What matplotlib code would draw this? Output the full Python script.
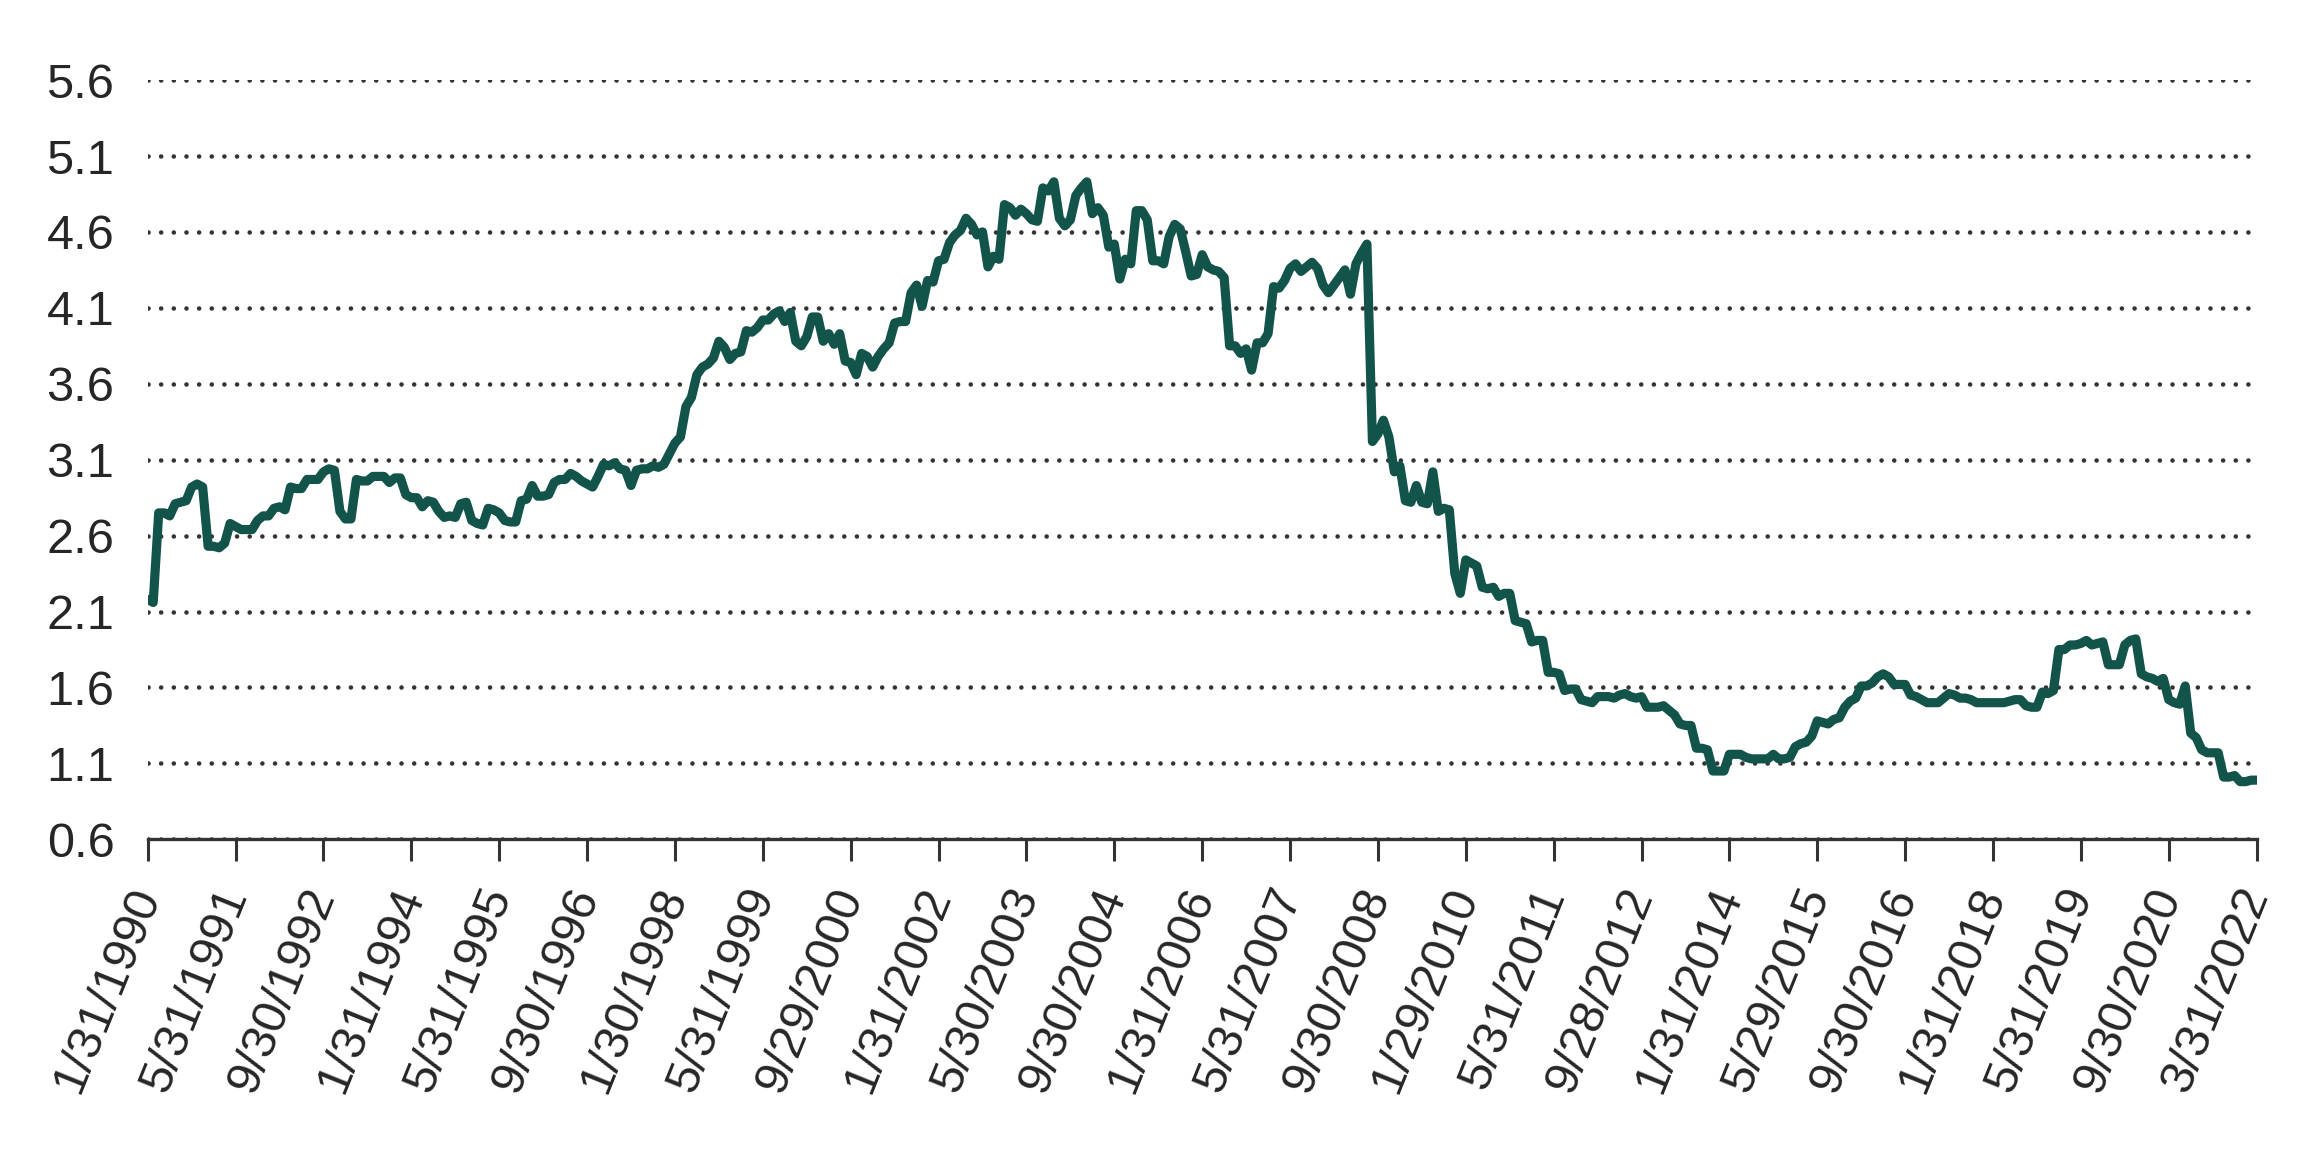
import matplotlib
matplotlib.use("Agg")
import matplotlib.pyplot as plt

# Month-end observations, Jan 1990 .. Mar 2022 (category positions on the axis)
values = [
    2.18, 2.16, 2.75, 2.75, 2.73, 2.81, 2.82, 2.83, 2.92, 2.94,
    2.92, 2.53, 2.53, 2.52, 2.55, 2.68, 2.66, 2.64, 2.64, 2.64,
    2.70, 2.73, 2.73, 2.78, 2.79, 2.77, 2.92, 2.91, 2.91, 2.97,
    2.97, 2.97, 3.02, 3.04, 3.03, 2.76, 2.71, 2.71, 2.97, 2.96,
    2.96, 2.99, 2.99, 2.99, 2.95, 2.98, 2.98, 2.87, 2.85, 2.85,
    2.79, 2.83, 2.82, 2.76, 2.72, 2.73, 2.72, 2.81, 2.82, 2.70,
    2.68, 2.67, 2.78, 2.77, 2.75, 2.70, 2.69, 2.69, 2.83, 2.84,
    2.93, 2.86, 2.86, 2.87, 2.95, 2.97, 2.97, 3.01, 2.99, 2.96,
    2.94, 2.92, 2.99, 3.07, 3.06, 3.08, 3.04, 3.03, 2.93, 3.03,
    3.04, 3.04, 3.06, 3.05, 3.07, 3.14, 3.21, 3.25, 3.45, 3.51,
    3.66, 3.71, 3.73, 3.77, 3.88, 3.84, 3.76, 3.80, 3.81, 3.95,
    3.94, 3.97, 4.02, 4.02, 4.06, 4.08, 4.01, 4.07, 3.88, 3.85,
    3.91, 4.04, 4.04, 3.88, 3.93, 3.86, 3.93, 3.75, 3.74, 3.66,
    3.80, 3.78, 3.71, 3.78, 3.83, 3.87, 4.00, 4.01, 4.01, 4.20,
    4.25, 4.11, 4.28, 4.27, 4.41, 4.42, 4.53, 4.58, 4.61, 4.69,
    4.65, 4.58, 4.60, 4.37, 4.44, 4.42, 4.78, 4.76, 4.71, 4.75,
    4.72, 4.68, 4.67, 4.89, 4.87, 4.93, 4.69, 4.64, 4.68, 4.84,
    4.89, 4.93, 4.72, 4.76, 4.71, 4.50, 4.52, 4.29, 4.42, 4.39,
    4.74, 4.74, 4.68, 4.41, 4.41, 4.39, 4.57, 4.65, 4.62, 4.47,
    4.31, 4.32, 4.45, 4.37, 4.35, 4.34, 4.30, 3.85, 3.85, 3.80,
    3.83, 3.69, 3.87, 3.87, 3.93, 4.24, 4.23, 4.28, 4.36, 4.39,
    4.34, 4.37, 4.40, 4.36, 4.25, 4.20, 4.25, 4.30, 4.35, 4.19,
    4.39, 4.46, 4.52, 3.22, 3.27, 3.36, 3.25, 3.02, 3.06, 2.83,
    2.82, 2.93, 2.82, 2.81, 3.02, 2.76, 2.78, 2.77, 2.35, 2.22,
    2.44, 2.42, 2.40, 2.26, 2.25, 2.26, 2.20, 2.22, 2.22, 2.04,
    2.03, 2.02, 1.90, 1.91, 1.91, 1.70, 1.70, 1.69, 1.58, 1.59,
    1.59, 1.52, 1.51, 1.50, 1.54, 1.54, 1.54, 1.53, 1.55, 1.56,
    1.54, 1.53, 1.54, 1.47, 1.47, 1.47, 1.48, 1.45, 1.42, 1.36,
    1.35, 1.35, 1.20, 1.20, 1.19, 1.05, 1.05, 1.05, 1.16, 1.16,
    1.16, 1.14, 1.13, 1.13, 1.13, 1.13, 1.16, 1.13, 1.13, 1.14,
    1.21, 1.23, 1.24, 1.28, 1.38, 1.37, 1.36, 1.39, 1.40, 1.47,
    1.51, 1.53, 1.61, 1.61, 1.63, 1.67, 1.69, 1.67, 1.62, 1.62,
    1.62, 1.55, 1.54, 1.52, 1.50, 1.50, 1.50, 1.53, 1.56, 1.55,
    1.53, 1.53, 1.52, 1.50, 1.50, 1.50, 1.50, 1.50, 1.50, 1.51,
    1.52, 1.52, 1.48, 1.47, 1.47, 1.57, 1.56, 1.58, 1.85, 1.85,
    1.88, 1.88, 1.89, 1.91, 1.88, 1.89, 1.90, 1.75, 1.75, 1.75,
    1.88, 1.91, 1.92, 1.69, 1.67, 1.66, 1.64, 1.66, 1.52, 1.50,
    1.49, 1.61, 1.30, 1.27, 1.19, 1.17, 1.17, 1.17, 1.01, 1.01,
    1.02, 0.98, 0.98, 0.99, 0.99,
]
months = list(range(len(values)))

# Category labels shown every 16 points
tick_labels = [
    "1/31/1990", "5/31/1991", "9/30/1992", "1/31/1994", "5/31/1995",
    "9/30/1996", "1/30/1998", "5/31/1999", "9/29/2000", "1/31/2002",
    "5/30/2003", "9/30/2004", "1/31/2006", "5/31/2007", "9/30/2008",
    "1/29/2010", "5/31/2011", "9/28/2012", "1/31/2014", "5/29/2015",
    "9/30/2016", "1/31/2018", "5/31/2019", "9/30/2020", "3/31/2022",
]
tick_pos = list(range(0, 16 * len(tick_labels), 16))
y_ticks = [0.6, 1.1, 1.6, 2.1, 2.6, 3.1, 3.6, 4.1, 4.6, 5.1, 5.6]

# narrow sans for the labels
plt.rcParams['font.family'] = ['Liberation Sans Narrow', 'Liberation Sans', 'DejaVu Sans']
text_color = '#262626'
axis_color = '#333333'

fig = plt.figure(figsize=(23.19, 11.49), dpi=100)
ax = fig.add_axes([0.0637, 0.2695, 0.9094, 0.6608])

# the series
ax.plot(months, values, color='#12534A', linewidth=6.6,
        solid_joinstyle='round', solid_capstyle='round', zorder=3)

# axes limits and ticks
ax.set_xlim(0, 384)
ax.set_ylim(0.6, 5.6)
ax.set_yticks(y_ticks)
ax.set_yticklabels([f"{v:.1f}" for v in y_ticks])
ax.set_xticks(tick_pos)
ax.set_xticklabels(tick_labels, rotation=68, ha='right', va='center',
                   rotation_mode='anchor')

# dotted horizontal gridlines
ax.grid(axis='y', color=axis_color, linewidth=3.3,
        linestyle=(0, (0.01, 2.75)), dash_capstyle='round')
ax.grid(axis='x', visible=False)

for side in ['top', 'right', 'left']:
    ax.spines[side].set_visible(False)
ax.spines['bottom'].set_color(axis_color)
ax.spines['bottom'].set_linewidth(2.4)

ax.tick_params(axis='y', length=0, pad=24, labelsize=35, labelcolor=text_color)
ax.tick_params(axis='x', length=16, width=2.2, color=axis_color, pad=20,
               labelsize=35, labelcolor=text_color)

plt.savefig('out.png', dpi=100)
